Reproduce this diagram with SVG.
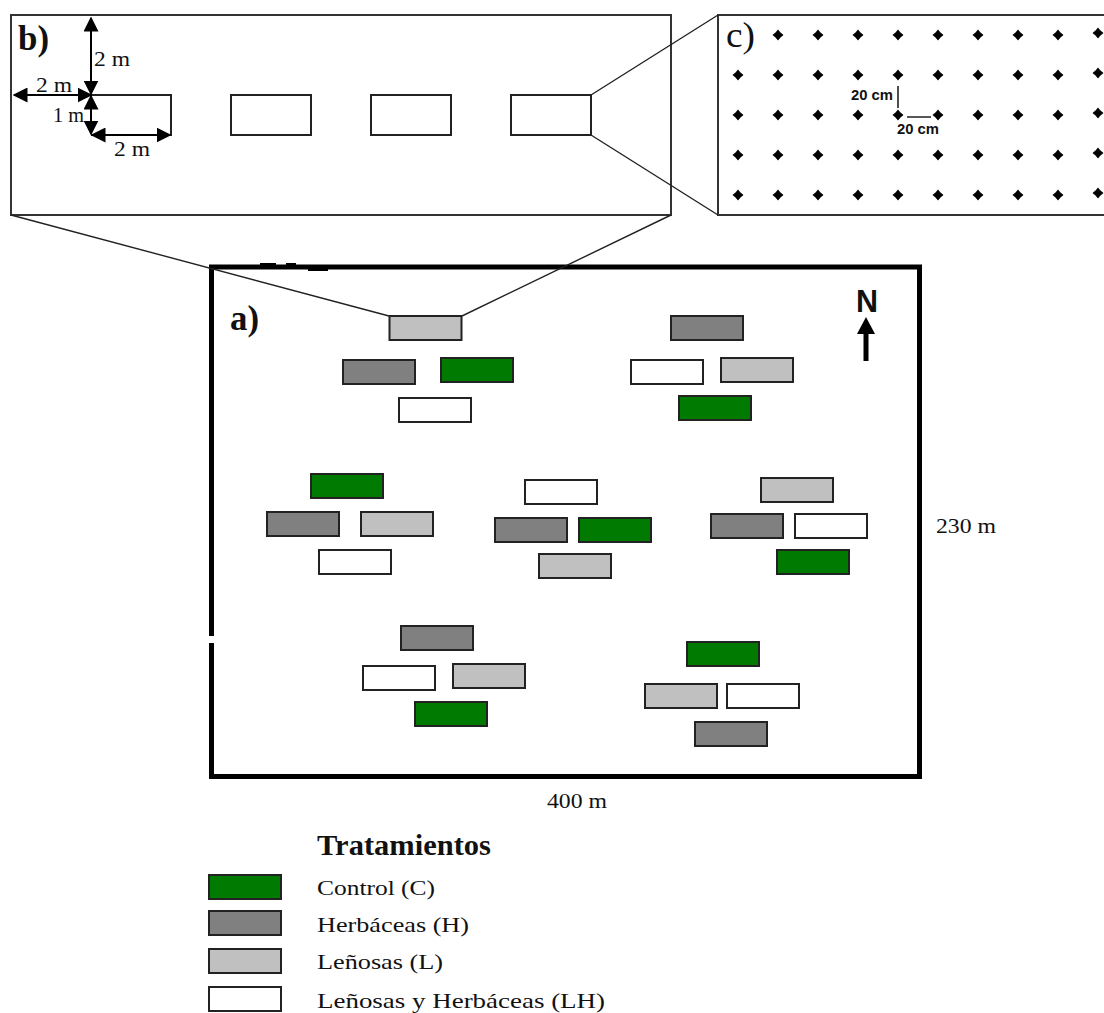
<svg xmlns="http://www.w3.org/2000/svg" width="1104" height="1013" viewBox="0 0 1104 1013">
<style>
text{font-family:"Liberation Serif","Times New Roman",serif;fill:#111}
.p{stroke:#222;stroke-width:2}
.c{fill:#007a00}.h{fill:#808080}.l{fill:#c0c0c0}.w{fill:#fff}
.panel{fill:#fff;stroke:#333;stroke-width:2}
.dim{font-size:22px}
.leg{font-size:22px}
.cm{font-family:"Liberation Sans",Arial,sans-serif;font-size:14.5px;font-weight:bold}
.ln{stroke:#222;stroke-width:1.4;fill:none}
.ar{stroke:#000;stroke-width:2;fill:none;marker-start:url(#a);marker-end:url(#a)}
</style>
<defs>
<marker id="a" viewBox="0 0 10 10" refX="9" refY="5" markerWidth="15" markerHeight="15" markerUnits="userSpaceOnUse" orient="auto-start-reverse"><path d="M0 0L10 5L0 10Z" fill="#000"/></marker>
<path id="d" d="M0-5.500L2.500-2.500L5.500 0L2.500 2.500L0 5.500L-2.500 2.500L-5.500 0L-2.500-2.500Z" fill="#000"/>
</defs>
<rect width="1104" height="1013" fill="#fff"/>
<g id="frame-a">
<rect x="211.500" y="267" width="708" height="509.500" fill="#fff" stroke="#000" stroke-width="5"/>
<rect x="208" y="636" width="6" height="7" fill="#fff"/>
<path d="M260 264H276M286 264H296M308 270H328" stroke="#000" stroke-width="2" fill="none"/>
<text x="230" y="330" font-size="36" font-weight="bold" textLength="29" lengthAdjust="spacingAndGlyphs">a)</text>
<text x="856" y="312" style="font-family:'Liberation Sans',Arial,sans-serif;font-size:32px" textLength="22" lengthAdjust="spacingAndGlyphs" font-weight="bold">N</text>
<path d="M866 361V330" stroke="#000" stroke-width="5" fill="none"/>
<path d="M857 334L866 317L875 334Z" fill="#000"/>
<text x="547" y="808" class="dim" textLength="60" lengthAdjust="spacingAndGlyphs">400 m</text>
<text x="936" y="533" class="dim" textLength="60" lengthAdjust="spacingAndGlyphs">230 m</text>
</g>
<g id="panel-b">
<rect class="panel" x="11" y="15" width="660" height="200"/>
<text x="18" y="50" font-size="36" font-weight="bold" textLength="31" lengthAdjust="spacingAndGlyphs">b)</text>
<path class="p" fill="none" d="M91 95H171V135H91"/>
<rect class="p w" x="231" y="95" width="80" height="40"/>
<rect class="p w" x="371" y="95" width="80" height="40"/>
<rect class="p w" x="511" y="95" width="80" height="40"/>
<path class="ar" d="M91 18V94"/>
<path class="ar" d="M14 95H91"/>
<path class="ar" d="M91 96V134"/>
<path class="ar" d="M92 135H170"/>
<text x="94" y="66" class="dim" textLength="36" lengthAdjust="spacingAndGlyphs">2 m</text>
<text x="36" y="92" class="dim" textLength="36" lengthAdjust="spacingAndGlyphs">2 m</text>
<text x="53" y="122" class="dim" textLength="31" lengthAdjust="spacingAndGlyphs">1 m</text>
<text x="114" y="156" class="dim" textLength="36" lengthAdjust="spacingAndGlyphs">2 m</text>
</g>
<g id="panel-c">
<rect class="panel" x="718" y="15" width="388" height="200"/>
<text x="726" y="47" font-size="36" textLength="29" lengthAdjust="spacingAndGlyphs">c)</text>
<g id="dots">
<use href="#d" x="778" y="35"/><use href="#d" x="818" y="35"/><use href="#d" x="858" y="35"/><use href="#d" x="898" y="35"/><use href="#d" x="938" y="35"/><use href="#d" x="978" y="35"/><use href="#d" x="1018" y="35"/><use href="#d" x="1058" y="35"/><use href="#d" x="1098" y="33"/>
<use href="#d" x="738" y="75"/><use href="#d" x="778" y="75"/><use href="#d" x="818" y="75"/><use href="#d" x="858" y="75"/><use href="#d" x="898" y="75"/><use href="#d" x="938" y="75"/><use href="#d" x="978" y="75"/><use href="#d" x="1018" y="75"/><use href="#d" x="1058" y="75"/><use href="#d" x="1098" y="73"/>
<use href="#d" x="738" y="115"/><use href="#d" x="778" y="115"/><use href="#d" x="818" y="115"/><use href="#d" x="858" y="115"/><use href="#d" x="898" y="115"/><use href="#d" x="938" y="115"/><use href="#d" x="978" y="115"/><use href="#d" x="1018" y="115"/><use href="#d" x="1058" y="115"/><use href="#d" x="1098" y="113"/>
<use href="#d" x="738" y="155"/><use href="#d" x="778" y="155"/><use href="#d" x="818" y="155"/><use href="#d" x="858" y="155"/><use href="#d" x="898" y="155"/><use href="#d" x="938" y="155"/><use href="#d" x="978" y="155"/><use href="#d" x="1018" y="155"/><use href="#d" x="1058" y="155"/><use href="#d" x="1098" y="153"/>
<use href="#d" x="738" y="195"/><use href="#d" x="778" y="195"/><use href="#d" x="818" y="195"/><use href="#d" x="858" y="195"/><use href="#d" x="898" y="195"/><use href="#d" x="938" y="195"/><use href="#d" x="978" y="195"/><use href="#d" x="1018" y="195"/><use href="#d" x="1058" y="195"/><use href="#d" x="1098" y="193"/>
</g>
<path d="M898 86V108M907 117H931" stroke="#222" stroke-width="1.600" fill="none"/>
<text x="851" y="100" class="cm" textLength="42" lengthAdjust="spacingAndGlyphs">20 cm</text>
<text x="897" y="134" class="cm" textLength="42" lengthAdjust="spacingAndGlyphs">20 cm</text>
</g>
<g id="connectors">
<path class="ln" d="M11 215L389 316M671 215L462 316M591 95L718 15M591 135L718 215"/>
</g>
<g id="plots">
<rect class="p l" x="389.500" y="316" width="72" height="24"/><rect class="p h" x="343" y="360" width="72" height="24"/><rect class="p c" x="441" y="358" width="72" height="24"/><rect class="p w" x="399" y="398" width="72" height="24"/>
<rect class="p h" x="671" y="316" width="72" height="24"/><rect class="p w" x="631" y="360" width="72" height="24"/><rect class="p l" x="721" y="358" width="72" height="24"/><rect class="p c" x="679" y="396" width="72" height="24"/>
<rect class="p c" x="311" y="474" width="72" height="24"/><rect class="p h" x="267" y="512" width="72" height="24"/><rect class="p l" x="361" y="512" width="72" height="24"/><rect class="p w" x="319" y="550" width="72" height="24"/>
<rect class="p w" x="525" y="480" width="72" height="24"/><rect class="p h" x="495" y="518" width="72" height="24"/><rect class="p c" x="579" y="518" width="72" height="24"/><rect class="p l" x="539" y="554" width="72" height="24"/>
<rect class="p l" x="761" y="478" width="72" height="24"/><rect class="p h" x="711" y="514" width="72" height="24"/><rect class="p w" x="795" y="514" width="72" height="24"/><rect class="p c" x="777" y="550" width="72" height="24"/>
<rect class="p h" x="401" y="626" width="72" height="24"/><rect class="p w" x="363" y="666" width="72" height="24"/><rect class="p l" x="453" y="664" width="72" height="24"/><rect class="p c" x="415" y="702" width="72" height="24"/>
<rect class="p c" x="687" y="642" width="72" height="24"/><rect class="p l" x="645" y="684" width="72" height="24"/><rect class="p w" x="727" y="684" width="72" height="24"/><rect class="p h" x="695" y="722" width="72" height="24"/>
</g>
<g id="legend">
<text x="317" y="855" font-size="29" font-weight="bold" textLength="174" lengthAdjust="spacingAndGlyphs">Tratamientos</text>
<rect class="p c" x="209" y="875" width="72" height="24"/>
<rect class="p h" x="209" y="911" width="72" height="24"/>
<rect class="p l" x="209" y="949" width="72" height="24"/>
<rect class="p w" x="209" y="987" width="72" height="24"/>
<text class="leg" x="317" y="895" textLength="118" lengthAdjust="spacingAndGlyphs">Control (C)</text>
<text class="leg" x="317" y="932" textLength="152" lengthAdjust="spacingAndGlyphs">Herbáceas (H)</text>
<text class="leg" x="317" y="969" textLength="126" lengthAdjust="spacingAndGlyphs">Leñosas (L)</text>
<text class="leg" x="317" y="1008" textLength="288" lengthAdjust="spacingAndGlyphs">Leñosas y Herbáceas (LH)</text>
</g>
</svg>
